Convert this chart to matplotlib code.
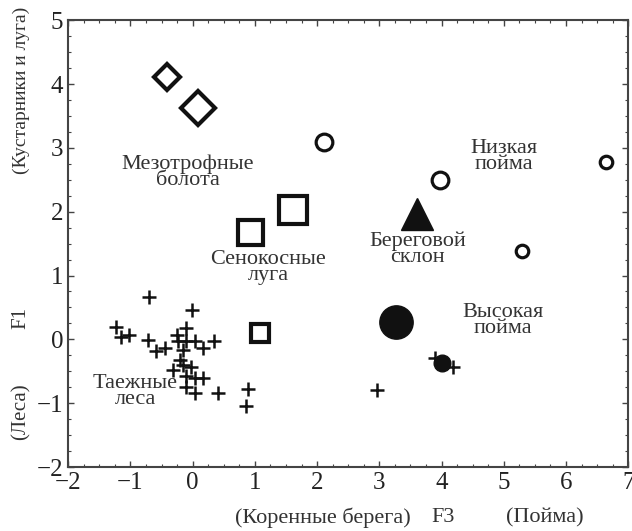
import matplotlib
matplotlib.use("Agg")
import matplotlib.pyplot as plt
from matplotlib.ticker import MultipleLocator

plt.rcParams["font.family"] = ["Liberation Serif", "DejaVu Serif"]

# plus markers: forest sites
forest_x = [-0.71, -0.01, -1.23, -1.15, -1.03, -0.72, -0.11, 0.35, -0.59, -0.44,
            -0.24, -0.10, 0.03, 0.17, -0.16, -0.21, -0.32, -0.16, -0.02, -0.10,
            0.03, 0.17, 0.03, 0.41, 0.89, 0.85, -0.10, -0.26, 2.97, 3.89, 4.19]
forest_y = [0.66, 0.46, 0.20, 0.04, 0.07, -0.01, 0.18, -0.02, -0.19, -0.14,
            -0.03, -0.03, -0.03, -0.14, -0.16, -0.32, -0.48, -0.40, -0.43, -0.58,
            -0.61, -0.61, -0.84, -0.84, -0.78, -1.05, -0.74, 0.07, -0.79, -0.29, -0.43]

bog_x = [-0.42, 0.08]
bog_y = [4.11, 3.62]
bog_size = [13, 17]

meadow_x = [0.92, 1.61, 1.08]
meadow_y = [1.68, 2.03, 0.10]
meadow_size = [18, 20, 13]

low_x = [2.11, 3.97, 5.29, 6.65]
low_y = [3.09, 2.50, 1.39, 2.78]
low_size = [12, 12, 9, 9]

bank_x = [3.60]
bank_y = [1.96]

high_x = [3.27, 4.00]
high_y = [0.27, -0.37]
high_size = [24, 12]

labels = ["Мезотрофные\nболота", "Сенокосные\nлуга", "Низкая\nпойма",
          "Береговой\nсклон", "Высокая\nпойма", "Таежные\nлеса"]
label_x = [-0.08, 1.21, 5.0, 3.61, 4.98, -0.92]
label_y = [2.62, 1.13, 2.87, 1.41, 0.29, -0.82]

INK = "#111111"
TXT = "#333333"

fig = plt.figure(figsize=(6.32, 5.31), dpi=100)
ax = fig.add_axes([0.108, 0.1205, 0.886, 0.8415])

ax.plot(forest_x, forest_y, "+", color=INK, ms=10, mew=1.8, ls="none")
for x, y, s in zip(bog_x, bog_y, bog_size):
    ax.plot(x, y, "D", ms=s, mfc="white", mec=INK, mew=3)
for x, y, s in zip(meadow_x, meadow_y, meadow_size):
    ax.plot(x, y, "s", ms=s, mfc="white", mec=INK, mew=3)
for x, y, s in zip(low_x, low_y, low_size):
    ax.plot(x, y, "o", ms=s, mfc="white", mec=INK, mew=2.3)
ax.plot(bank_x, bank_y, "^", ms=23, color=INK)
for x, y, s in zip(high_x, high_y, high_size):
    ax.plot(x, y, "o", ms=s, color=INK)

for t, x, y in zip(labels, label_x, label_y):
    ax.text(x, y, t, ha="center", va="center", fontsize=16, color=TXT,
            linespacing=0.8)

ax.set_xlim(-2, 7)
ax.set_ylim(-2, 5)
ax.xaxis.set_minor_locator(MultipleLocator(0.25))
ax.yaxis.set_minor_locator(MultipleLocator(0.25))
ax.tick_params(which="both", direction="in", top=True, right=True,
               color="#444444", labelsize=18, labelcolor="#222222")
ax.tick_params(which="major", length=4, width=1)
ax.tick_params(which="minor", length=2.5, width=0.8)
ax.set_xticks(range(-2, 8))
ax.set_xticklabels(["\u22122", "\u22121", "0", "1", "2", "3", "4", "5", "6", "7"])
ax.set_yticks(range(-2, 6))
ax.set_yticklabels(["\u22122", "\u22121", "0", "1", "2", "3", "4", "5"])
for sp in ax.spines.values():
    sp.set_linewidth(1.5)
    sp.set_color("#444444")

# axis captions in pieces
H = 531.0
W = 632.0
fig.text(323 / W, 1 - 518 / H, "(Коренные берега)", ha="center", va="center",
         fontsize=16, color=TXT)
fig.text(443 / W, 1 - 518 / H, "F3", ha="center", va="center",
         fontsize=16, color=TXT)
fig.text(545 / W, 1 - 518 / H, "(Пойма)", ha="center", va="center",
         fontsize=16, color=TXT)
fig.text(21 / W, 1 - 90 / H, "(Кустарники и луга)", ha="center", va="center",
         rotation=90, fontsize=14, color=TXT)
fig.text(21 / W, 1 - 318 / H, "F1", ha="center", va="center",
         rotation=90, fontsize=15, color=TXT)
fig.text(21 / W, 1 - 412 / H, "(Леса)", ha="center", va="center",
         rotation=90, fontsize=15, color=TXT)

fig.savefig("out.png", dpi=100)
